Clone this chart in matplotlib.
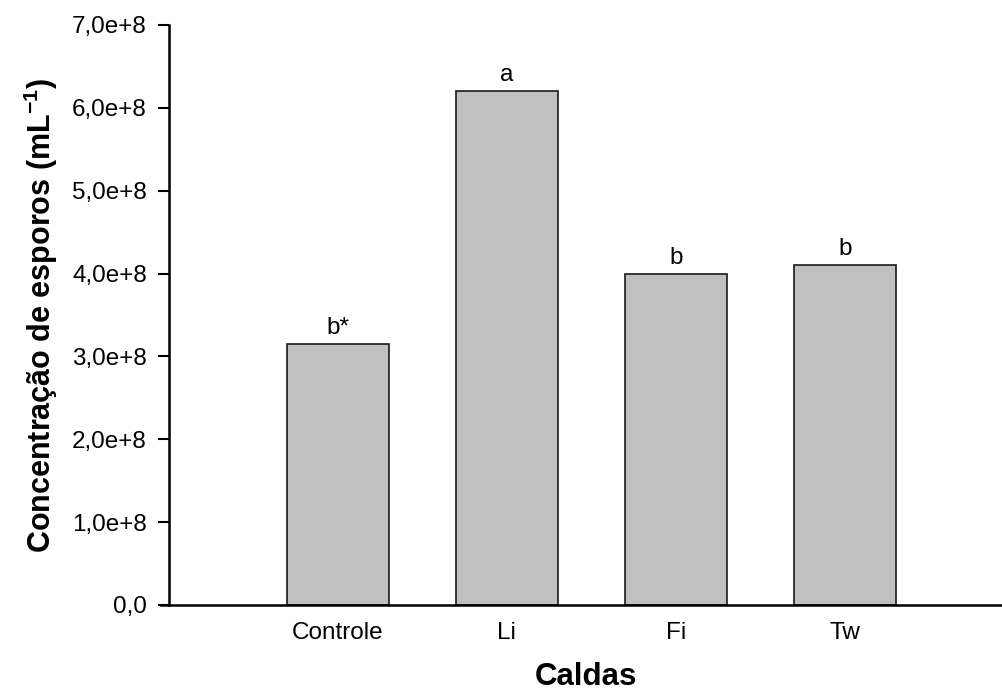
import numpy as np
import matplotlib
matplotlib.use("Agg")
import matplotlib.pyplot as plt

plt.rcParams['font.family'] = ['Liberation Sans', 'DejaVu Sans']
plt.rcParams['mathtext.fontset'] = 'custom'
plt.rcParams['mathtext.rm'] = 'Liberation Sans'
plt.rcParams['mathtext.bf'] = 'Liberation Sans:bold'

caldas = ["Controle", "Li", "Fi", "Tw"]
esporos = [3.15e8, 6.2e8, 4.0e8, 4.1e8]
letras = ["b*", "a", "b", "b"]
yticks = [0, 1e8, 2e8, 3e8, 4e8, 5e8, 6e8, 7e8]
ytick_labels = ["0,0", "1,0e+8", "2,0e+8", "3,0e+8", "4,0e+8",
                "5,0e+8", "6,0e+8", "7,0e+8"]

fig = plt.figure(figsize=(10.03, 6.90), dpi=100)
ax = fig.add_axes([169/1003, 85/690, 833/1003, 580/690])

x = np.arange(1, len(caldas) + 1)
ax.bar(x, esporos, width=0.6, color="#c0c0c0", edgecolor="#1a1a1a",
       linewidth=1.2, zorder=2)

# letras de significância acima das barras
for xi, v, t in zip(x, esporos, letras):
    ax.text(xi, v + 0.06e8, t, ha="center", va="bottom", fontsize=17.5)

ax.set_xlim(0, 4.93)
ax.set_ylim(0, 7e8)
ax.set_xticks(x)
ax.set_xticklabels(caldas, fontsize=17.5)
ax.set_yticks(yticks)
ax.set_yticklabels(ytick_labels, fontsize=17.5)
ax.tick_params(axis="x", length=0, pad=12)
ax.tick_params(axis="y", direction="out", length=8, width=1.5, pad=8)

for s in ["top", "right"]:
    ax.spines[s].set_visible(False)
for s in ["left", "bottom"]:
    ax.spines[s].set_linewidth(1.8)
ax.spines["bottom"].set_bounds(-8/169.1, 4.93)

ax.set_xlabel("Caldas", fontsize=22.5, fontweight="bold", labelpad=13)
ax.set_ylabel(r"Concentração de esporos (mL$^{\mathbf{-1}}$)", fontsize=22,
              fontweight="bold", labelpad=9)

fig.savefig("out.png", dpi=100)
